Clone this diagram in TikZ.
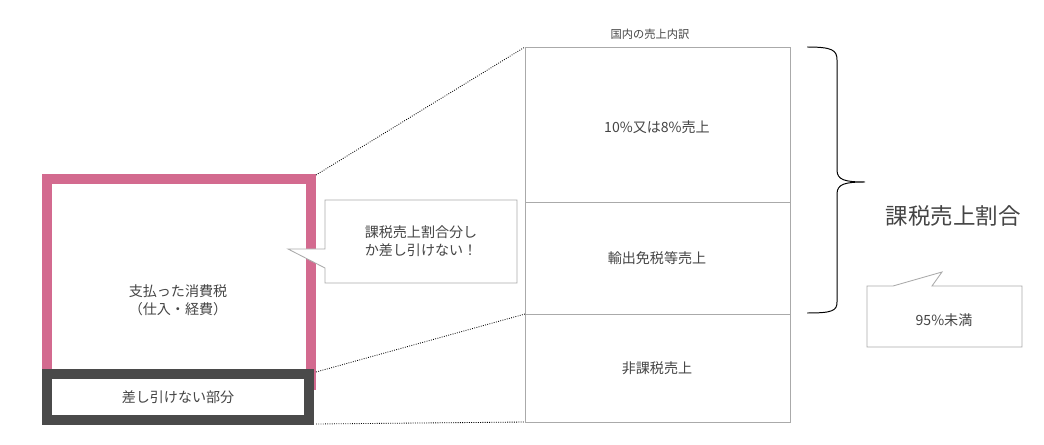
\documentclass[tikz,border=0pt]{standalone}
\usepackage{fontspec}
\setmainfont{Noto Sans CJK JP}
\usetikzlibrary{positioning}
\definecolor{pinkline}{HTML}{D36A8F}
\definecolor{darkline}{HTML}{4A4A4A}
\definecolor{grayline}{HTML}{AAAAAA}
\definecolor{txt}{HTML}{444444}
\tikzset{
  every node/.style={text=txt, font=\fontsize{10}{13}\selectfont},
  colbox/.style={draw=grayline, line width=0.6pt},
  guide/.style={densely dotted, line width=0.6pt, black},
  callout/.style={draw=grayline, fill=white, line width=0.6pt}
}
\begin{document}
\begin{tikzpicture}[x=0.025cm, y=-0.025cm]
  \useasboundingbox (0,0) rectangle (1044,445);

  % Paid tax box
  \draw[pinkline, line width=7pt] (47,179) rectangle (311,385);
  \node[align=center] (paid) at (178,300) {支払った消費税\\（仕入・経費）};

  % Non-deductible part
  \draw[darkline, line width=7pt, fill=white] (47,374) rectangle (309,420);
  \node (nondeduct) at (178,397) {差し引けない部分};

  % Sales breakdown column
  \draw[colbox] (525,47) rectangle (790,422);
  \draw[colbox] (525,202) -- (790,202);
  \draw[colbox] (525,314) -- (790,314);
  \node[font=\fontsize{8}{10}\selectfont] (coltitle) at (650,34) {国内の売上内訳};
  \node (taxable) at (657,127) {10\%又は8\%売上};
  \node (export) at (657,258) {輸出免税等売上};
  \node (exempt) at (657,368) {非課税売上};

  % Guide lines
  \coordinate (p1) at (316,175);
  \coordinate (q1) at (525,47);
  \coordinate (p2) at (316,372);
  \coordinate (q2) at (525,314);
  \coordinate (p3) at (316,424);
  \coordinate (q3) at (525,422);
  \draw[guide] (p1) -- (q1);
  \draw[guide] (p2) -- (q2);
  \draw[guide] (p3) -- (q3);

  % Callout left
  \draw[callout] (325,200) -- (517,200) -- (517,283) -- (325,283) -- (325,268)
    -- (288,249) -- (325,249) -- cycle;
  \node[align=left] (note1) at (421,241) {課税売上割合分し\\か差し引けない！};

  % Brace
  \draw[black, line width=0.7pt] (807,47) .. controls (832,47) and (837,50) .. (837,60)
    -- (837,170) .. controls (837,180) and (845,182) .. (865,182)
    .. controls (845,182) and (837,184) .. (837,194)
    -- (837,302) .. controls (837,311) and (832,313) .. (807,313);
  \node[font=\fontsize{16}{19}\selectfont] (ratio) at (953,216) {課税売上割合};

  % Callout right
  \draw[callout] (867,286) -- (893,286) -- (942,272) -- (932,286) -- (1022,286)
    -- (1022,347) -- (867,347) -- cycle;
  \node (note2) at (944,320) {95\%未満};
\end{tikzpicture}
\end{document}
